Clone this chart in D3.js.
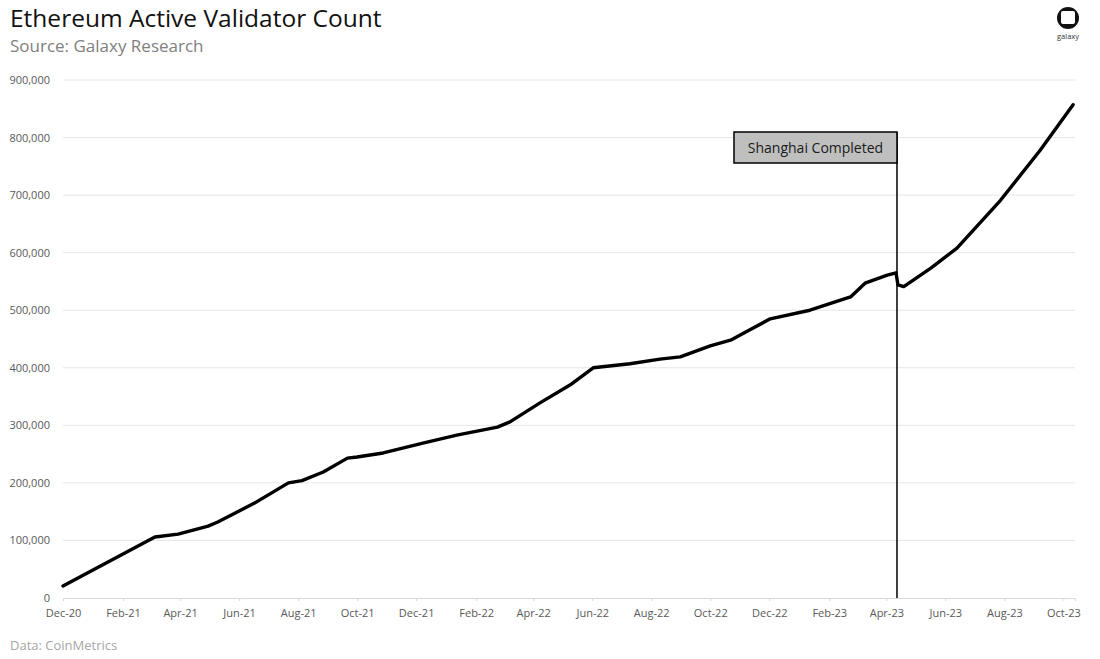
<!DOCTYPE html>
<html>
<head>
<meta charset="utf-8">
<script src="https://cdn.jsdelivr.net/npm/d3@7"></script>
<style>
  body { margin: 0; background: #fff; }
  svg { display: block; font-family: "Open Sans", "Noto Sans", sans-serif; }
</style>
</head>
<body>
<svg id="chart" width="1100" height="659"></svg>
<script>
// validator count
var dates = ["2020-12-01", "2021-03-06", "2021-03-30", "2021-04-30", "2021-05-10", "2021-06-17",
  "2021-07-22", "2021-08-05", "2021-08-27", "2021-09-21", "2021-10-01", "2021-10-28", "2021-12-08",
  "2022-01-12", "2022-02-23", "2022-03-08", "2022-04-08", "2022-05-09", "2022-06-02", "2022-07-10",
  "2022-08-10", "2022-08-31", "2022-10-01", "2022-10-22", "2022-11-11", "2022-12-02", "2023-01-12",
  "2023-02-23", "2023-03-10", "2023-04-02", "2023-04-11", "2023-04-13", "2023-04-19", "2023-05-17",
  "2023-06-13", "2023-07-28", "2023-09-07", "2023-10-11"];
var validators = [21000, 106000, 111000, 125000, 132000, 165000,
  200000, 204000, 219000, 243000, 245000, 252000, 269000,
  283000, 297000, 306000, 339000, 370000, 400000, 407000,
  415000, 419000, 438000, 448000, 466000, 485000, 500000,
  523000, 547000, 561000, 565000, 544000, 541000, 573000,
  608000, 691000, 778000, 857000];
var yTicks = [0, 100000, 200000, 300000, 400000, 500000, 600000, 700000, 800000, 900000];
var shanghaiDate = "2023-04-12";
var shanghaiLabel = "Shanghai Completed";

var parse = d3.timeParse("%Y-%m-%d");
var data = dates.map(function(d, i) { return { date: parse(d), value: validators[i] }; });

var svg = d3.select("#chart");
var margin = { left: 63, right: 25, top: 80, bottom: 61 };
var W = 1100, H = 659;

var x = d3.scaleTime()
  .domain([parse("2020-12-01"), parse("2023-10-13")])
  .range([margin.left, W - margin.right]);
var y = d3.scaleLinear().domain([0, 900000]).range([H - margin.bottom, margin.top]);

// titles
svg.append("text").attr("x", 10).attr("y", 27)
  .attr("font-size", 24.5).attr("fill", "#111").text("Ethereum Active Validator Count");
svg.append("text").attr("x", 10).attr("y", 52)
  .attr("font-size", 17).attr("fill", "#808080").text("Source: Galaxy Research");
svg.append("text").attr("x", 10).attr("y", 650)
  .attr("font-size", 13).attr("fill", "#a6a6a6").text("Data: CoinMetrics");

// logo
var logo = svg.append("g").attr("transform", "translate(1068,18)");
logo.append("circle").attr("r", 11).attr("fill", "#111");
logo.append("rect").attr("x", -7).attr("y", -7).attr("width", 14).attr("height", 13)
  .attr("rx", 2).attr("fill", "#fff");
logo.append("text").attr("y", 21).attr("text-anchor", "middle")
  .attr("font-size", 7.5).attr("fill", "#333").text("galaxy");

// gridlines
svg.append("g").selectAll("line").data(yTicks.slice(1)).enter().append("line")
  .attr("x1", margin.left).attr("x2", W - margin.right)
  .attr("y1", function(d) { return y(d); }).attr("y2", function(d) { return y(d); })
  .attr("stroke", "#e6e6e6").attr("stroke-width", 1);

// y axis
var yAxis = d3.axisLeft(y).tickValues(yTicks).tickSize(0).tickPadding(13)
  .tickFormat(function(d) { return d === 0 ? "0" : d3.format(",")(d); });
var yg = svg.append("g").attr("transform", "translate(" + margin.left + ",0)").call(yAxis);
yg.select(".domain").remove();
yg.selectAll("text").attr("font-size", 11).attr("fill", "#595959")
  .attr("font-family", "Open Sans, sans-serif");

// x axis, every second month from Dec-20
var xTicks = d3.timeMonth.range(parse("2020-12-01"), parse("2023-10-13"), 2);
var xAxis = d3.axisBottom(x).tickValues(xTicks).tickSize(3).tickPadding(8)
  .tickFormat(d3.timeFormat("%b-%y"));
var xg = svg.append("g").attr("transform", "translate(0," + y(0) + ")").call(xAxis);
xg.select(".domain").attr("stroke", "#d9d9d9");
xg.selectAll(".tick line").attr("stroke", "#d9d9d9");
xg.selectAll("text").attr("font-size", 11).attr("fill", "#595959")
  .attr("font-family", "Open Sans, sans-serif");

// Shanghai marker
var sx = x(parse(shanghaiDate));
svg.append("line").attr("x1", sx).attr("x2", sx).attr("y1", 132).attr("y2", y(0))
  .attr("stroke", "#000").attr("stroke-width", 1.5);

// series line
var line = d3.line()
  .x(function(d) { return x(d.date); })
  .y(function(d) { return y(d.value); });
svg.append("path").datum(data).attr("d", line)
  .attr("fill", "none").attr("stroke", "#000").attr("stroke-width", 3.4)
  .attr("stroke-linejoin", "round").attr("stroke-linecap", "round");

// annotation box
svg.append("rect").attr("x", sx - 163).attr("y", 132).attr("width", 163).attr("height", 31)
  .attr("fill", "#bfbfbf").attr("stroke", "#000").attr("stroke-width", 1.5);
svg.append("text").attr("x", sx - 81.5).attr("y", 153).attr("text-anchor", "middle")
  .attr("font-size", 14).attr("fill", "#1a1a1a").text(shanghaiLabel);
</script>
</body>
</html>
